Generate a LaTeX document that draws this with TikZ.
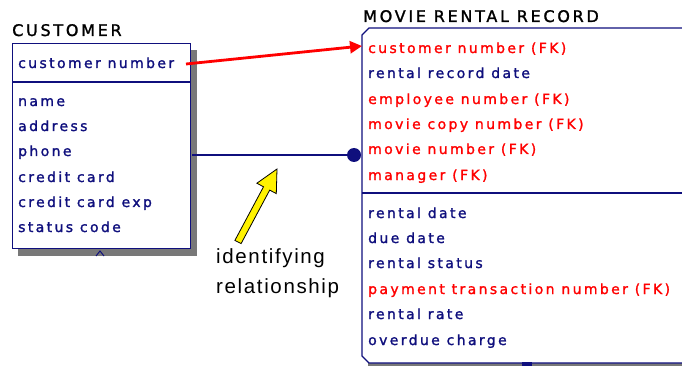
\documentclass[tikz,border=0pt]{standalone}
\usepackage{fontspec}
\setmainfont{DejaVu Sans}
\newfontfamily\boxfont[LetterSpace=17,FakeBold=1.4]{DejaVu Sans}
\newfontfamily\titlefont[LetterSpace=17,FakeBold=1.4]{DejaVu Sans}
\newfontfamily\notefont[LetterSpace=8]{Liberation Sans}
\usetikzlibrary{arrows.meta}
\definecolor{navy}{RGB}{15,15,125}
\definecolor{erred}{RGB}{255,0,0}
\definecolor{shade}{RGB}{120,120,120}
\begin{document}
\begin{tikzpicture}[x=1pt,y=-1pt,
  attr/.style={anchor=base west, inner sep=0pt, text=navy, font=\boxfont\fontsize{14}{16}\selectfont},
  fkattr/.style={attr, text=erred},
  ent/.style={anchor=base west, inner sep=0pt, font=\titlefont\fontsize{16}{18}\selectfont},
  note/.style={anchor=base west, inner sep=0pt, font=\notefont\fontsize{20.5}{24}\selectfont},
  boxline/.style={draw=navy, line width=1.3pt},
  shadow/.style={fill=shade},
]
\useasboundingbox (0,0) rectangle (682,366);
\fill[white] (0,0) rectangle (682,366);

% ---------- CUSTOMER ----------
\node[ent] (custtitle) at (12,36) {CUSTOMER};
\fill[shadow] (191,50) rectangle (197,256);
\fill[shadow] (18,249) rectangle (197,256);
\node[boxline, fill=white, anchor=north west, inner sep=0pt,
      minimum width=178, minimum height=205] (custbox) at (12,43) {};
\draw[boxline] (12,82) -- (190,82);
\draw[navy, line width=1pt] (96,256) -- (100,251) -- (104,256);

\node[attr] (c0) at (18,68) {customer number};
\node[attr] (c1) at (18,106) {name};
\node[attr] (c2) at (18,131) {address};
\node[attr] (c3) at (18,156) {phone};
\node[attr] (c4) at (18,182) {credit card};
\node[attr] (c5) at (18,207) {credit card exp};
\node[attr] (c6) at (18,232) {status code};

% ---------- MOVIE RENTAL RECORD ----------
\node[ent] (mrrtitle) at (363,22) {MOVIE RENTAL RECORD};
\fill[shadow] (368,363) rectangle (682,366);
\draw[boxline, fill=white] (683,28) -- (369,28) -- (362,35) -- (362,356) -- (369,363) -- (683,363);
\draw[boxline] (362,193) -- (683,193);
\fill[navy] (522,362) rectangle (532,366);

\node[fkattr] (m0) at (368,53) {customer number (FK)};
\node[attr]   (m1) at (368,78) {rental record date};
\node[fkattr] (m2) at (368,104) {employee number (FK)};
\node[fkattr] (m3) at (368,129) {movie copy number (FK)};
\node[fkattr] (m4) at (368,154) {movie number (FK)};
\node[fkattr] (m5) at (368,180) {manager (FK)};
\node[attr]   (m6) at (368,218) {rental date};
\node[attr]   (m7) at (368,243) {due date};
\node[attr]   (m8) at (368,268) {rental status};
\node[fkattr] (m9) at (368,294) {payment transaction number (FK)};
\node[attr]   (m10) at (368,319) {rental rate};
\node[attr]   (m11) at (368,345) {overdue charge};

% ---------- connectors ----------
\coordinate (redstart) at (186,64);
\coordinate (redend) at (362,46);
\draw[erred, line width=2.8pt, -{Triangle[length=12pt,width=12pt]}] (redstart) -- (redend);

\coordinate (bluestart) at (192,155);
\coordinate (bluedot) at (354,155);
\draw[navy, line width=1.3pt] (bluestart) -- (bluedot);
\fill[navy] (bluedot) circle (7);

% ---------- annotation ----------
\draw[black, line width=0.8pt, fill=yellow, line join=miter]
  (241.1,243.6) -- (269.7,190.1) -- (276.3,193.6) -- (277,169)
  -- (256.9,183.2) -- (263.5,186.8) -- (234.9,240.4) -- cycle;
\node[note] (n1) at (216,263) {identifying};
\node[note] (n2) at (216,293) {relationship};
\end{tikzpicture}
\end{document}
